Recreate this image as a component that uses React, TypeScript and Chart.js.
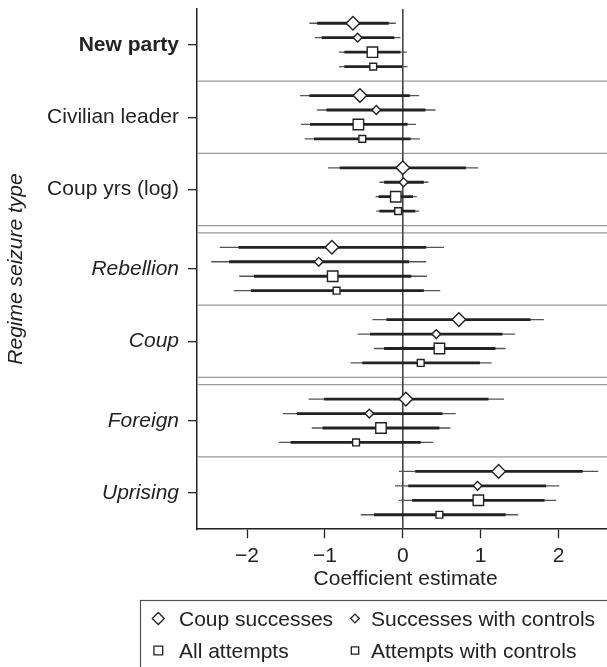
import { useEffect, useRef } from 'react';
import { Chart, registerables } from 'chart.js';

Chart.register(...registerables);

// Regime-seizure covariates, top to bottom
const GROUPS = ['New party', 'Civilian leader', 'Coup yrs (log)', 'Rebellion', 'Coup', 'Foreign', 'Uprising'];

// Coup successes
const SUCCESS_EST = [-0.64, -0.55, 0.0, -0.91, 0.72, 0.04, 1.23];
const SUCCESS_CI95 = [[-1.2, -0.09], [-1.32, 0.21], [-0.96, 0.97], [-2.35, 0.53], [-0.39, 1.81], [-1.21, 1.3], [-0.05, 2.51]];
const SUCCESS_CI90 = [[-1.1, -0.18], [-1.2, 0.09], [-0.81, 0.81], [-2.11, 0.3], [-0.21, 1.64], [-1.01, 1.1], [0.16, 2.31]];

// Successes with controls
const SUCCESS_CTRL_EST = [-0.58, -0.34, 0.01, -1.08, 0.43, -0.43, 0.96];
const SUCCESS_CTRL_CI95 = [[-1.13, -0.03], [-1.1, 0.42], [-0.3, 0.33], [-2.46, 0.3], [-0.58, 1.44], [-1.54, 0.68], [-0.1, 2.01]];
const SUCCESS_CTRL_CI90 = [[-1.04, -0.11], [-0.98, 0.29], [-0.24, 0.27], [-2.23, 0.08], [-0.42, 1.28], [-1.36, 0.51], [0.07, 1.84]];

// All attempts
const ATTEMPT_EST = [-0.39, -0.57, -0.09, -0.9, 0.47, -0.28, 0.97];
const ATTEMPT_CI95 = [[-0.82, 0.05], [-1.31, 0.17], [-0.35, 0.18], [-2.1, 0.31], [-0.37, 1.32], [-1.17, 0.61], [-0.05, 1.97]];
const ATTEMPT_CI90 = [[-0.75, -0.03], [-1.19, 0.06], [-0.31, 0.13], [-1.91, 0.11], [-0.24, 1.19], [-1.03, 0.47], [0.12, 1.82]];

// Attempts with controls
const ATTEMPT_CTRL_EST = [-0.38, -0.52, -0.06, -0.85, 0.23, -0.6, 0.47];
const ATTEMPT_CTRL_CI95 = [[-0.82, 0.06], [-1.26, 0.22], [-0.34, 0.21], [-2.17, 0.48], [-0.67, 1.14], [-1.59, 0.39], [-0.54, 1.48]];
const ATTEMPT_CTRL_CI90 = [[-0.75, -0.01], [-1.14, 0.1], [-0.3, 0.16], [-1.95, 0.27], [-0.52, 0.99], [-1.44, 0.23], [-0.37, 1.32]];

const X_TICKS = [-2, -1, 0, 1, 2];

// Groups after which a double rule closes a block of covariates
const BLOCK_ENDS = [2, 4];
// Tick label emphasis per group
const LABEL_WEIGHT = ['bold', 'normal', 'normal', 'normal', 'normal', 'normal', 'normal'];
const LABEL_STYLE = ['normal', 'normal', 'normal', 'italic', 'italic', 'italic', 'italic'];

const FONT = '"Liberation Sans", Arial, Helvetica, sans-serif';
const INK = '#222';

type Series = {
  label: string;
  est: number[];
  ci95: number[][];
  ci90: number[][];
  style: 'rectRot' | 'rect';
  radius: number;
  legendRadius: number;
};

const SERIES: Series[] = [
  { label: 'Coup successes', est: SUCCESS_EST, ci95: SUCCESS_CI95, ci90: SUCCESS_CI90, style: 'rectRot', radius: 6.8, legendRadius: 6 },
  { label: 'Successes with controls', est: SUCCESS_CTRL_EST, ci95: SUCCESS_CTRL_CI95, ci90: SUCCESS_CTRL_CI90, style: 'rectRot', radius: 4.4, legendRadius: 4.4 },
  { label: 'All attempts', est: ATTEMPT_EST, ci95: ATTEMPT_CI95, ci90: ATTEMPT_CI90, style: 'rect', radius: 7.4, legendRadius: 6.2 },
  { label: 'Attempts with controls', est: ATTEMPT_CTRL_EST, ci95: ATTEMPT_CTRL_CI95, ci90: ATTEMPT_CTRL_CI90, style: 'rect', radius: 4.8, legendRadius: 5.2 },
];

// Vertical layout in row units: four rows per group, a rule one row below,
// and half an extra row where a double rule ends a block.
function buildRows() {
  const rowStart: number[] = [];
  const rules: number[] = [];
  let pos = 0;
  GROUPS.forEach((_, g) => {
    rowStart.push(pos);
    if (g === GROUPS.length - 1) return;
    rules.push(pos + 4);
    if (BLOCK_ENDS.includes(g)) {
      rules.push(pos + 4.5);
      pos += 5.5;
    } else {
      pos += 5;
    }
  });
  const centers = rowStart.map((s) => s + (SERIES.length - 1) / 2);
  return { rowStart, rules, centers, yMin: -1, yMax: rowStart[rowStart.length - 1] + SERIES.length };
}

const X_MIN = -2.642;
const X_MAX = 2.714;

const GAP = { x: NaN, y: NaN };

function drawMarker(ctx: CanvasRenderingContext2D, style: string, x: number, y: number, r: number) {
  ctx.beginPath();
  if (style === 'rectRot') {
    ctx.moveTo(x - r, y);
    ctx.lineTo(x, y - r);
    ctx.lineTo(x + r, y);
    ctx.lineTo(x, y + r);
    ctx.closePath();
  } else {
    const h = r * Math.SQRT1_2;
    ctx.rect(x - h, y - h, 2 * h, 2 * h);
  }
  ctx.fillStyle = '#fff';
  ctx.fill();
  ctx.lineWidth = 1.3;
  ctx.strokeStyle = INK;
  ctx.stroke();
}

// Boxed two-by-two key under the axis title
const boxedKey = {
  id: 'boxedKey',
  afterDraw(chart: Chart) {
    const { ctx } = chart;
    const left = 140;
    const top = 600;
    const colMarker = [158.3, 355];
    const colText = [179, 371];
    const rowMid = [618.5, 650.5];
    ctx.save();
    ctx.strokeStyle = '#555';
    ctx.lineWidth = 1.2;
    ctx.strokeRect(left + 0.5, top + 0.5, chart.width, chart.height);
    ctx.font = `21px ${FONT}`;
    ctx.textBaseline = 'alphabetic';
    ctx.textAlign = 'left';
    SERIES.forEach((s, i) => {
      const col = i % 2;
      const row = Math.floor(i / 2);
      drawMarker(ctx, s.style, colMarker[col], rowMid[row], s.legendRadius);
      ctx.fillStyle = INK;
      ctx.fillText(s.label, colText[col], rowMid[row] + 7.5);
    });
    ctx.restore();
  },
};

export default function App() {
  const canvasRef = useRef<HTMLCanvasElement | null>(null);

  useEffect(() => {
    const canvas = canvasRef.current;
    if (!canvas) return;
    const { rowStart, rules, centers, yMin, yMax } = buildRows();

    const markerSets = SERIES.map((s, k) => ({
      label: s.label,
      data: s.est.map((v, g) => ({ x: v, y: rowStart[g] + k })),
      showLine: false,
      pointStyle: s.style,
      pointRadius: s.radius,
      pointBackgroundColor: '#fff',
      pointBorderColor: INK,
      pointBorderWidth: 1.4,
    }));

    const intervalPoints = (key: 'ci95' | 'ci90') => {
      const pts: { x: number; y: number }[] = [];
      SERIES.forEach((s, k) => {
        s[key].forEach(([lo, hi], g) => {
          const y = rowStart[g] + k;
          pts.push({ x: lo, y }, { x: hi, y }, GAP);
        });
      });
      return pts;
    };

    const lineSet = (data: { x: number; y: number }[], color: string, width: number) => ({
      data,
      showLine: true,
      spanGaps: false,
      pointRadius: 0,
      borderColor: color,
      borderWidth: width,
      borderCapStyle: 'butt' as const,
    });

    const rulePoints: { x: number; y: number }[] = [];
    rules.forEach((y) => rulePoints.push({ x: X_MIN, y }, { x: X_MAX, y }, GAP));

    const chart = new Chart(canvas, {
      type: 'scatter',
      data: {
        datasets: [
          ...markerSets,
          lineSet(intervalPoints('ci90'), '#222', 2.8),
          lineSet(intervalPoints('ci95'), '#555', 1.3),
          lineSet([{ x: 0, y: yMin }, { x: 0, y: yMax }], '#444', 1.6),
          lineSet(rulePoints, '#9a9a9a', 1.1),
        ] as any,
      },
      options: {
        responsive: false,
        animation: false,
        devicePixelRatio: 1,
        events: [],
        layout: { padding: { top: 4.6, left: 0, right: 0, bottom: 107.8 } },
        plugins: { legend: { display: false }, tooltip: { enabled: false } },
        scales: {
          x: {
            type: 'linear',
            min: X_MIN,
            max: X_MAX,
            afterBuildTicks: (scale: any) => {
              scale.ticks = X_TICKS.map((value) => ({ value }));
            },
            afterFit: (scale: any) => {
              scale.height = 63;
              scale.paddingLeft = 0;
              scale.paddingRight = 0;
            },
            ticks: {
              padding: 5,
              color: INK,
              font: { family: FONT, size: 21 },
              callback: (v: any) => (Number(v) < 0 ? '\u2212' + Math.abs(Number(v)) : String(v)),
            },
            grid: { drawOnChartArea: false, tickLength: 9, color: INK, tickColor: INK, tickWidth: 1.3 },
            border: { display: true, color: INK, width: 1.5 },
            title: { display: true, text: 'Coefficient estimate', color: INK, font: { family: FONT, size: 21 }, padding: 0 },
          },
          y: {
            type: 'linear',
            reverse: true,
            min: yMin,
            max: yMax,
            afterBuildTicks: (scale: any) => {
              scale.ticks = centers.map((value) => ({ value }));
            },
            afterFit: (scale: any) => {
              scale.width = 197;
              scale.paddingTop = 0;
              scale.paddingBottom = 0;
            },
            ticks: {
              padding: 9,
              color: INK,
              callback: (_v: any, i: number) => GROUPS[i],
              font: (ctx: any) => ({
                family: FONT,
                size: 21,
                weight: LABEL_WEIGHT[ctx.index] as any,
                style: LABEL_STYLE[ctx.index] as any,
              }),
            },
            grid: { drawOnChartArea: false, tickLength: 9, color: INK, lineWidth: 1.3 },
            border: { display: true, color: INK, width: 1.5 },
            title: {
              display: true,
              text: 'Regime seizure type',
              color: INK,
              font: { family: FONT, size: 21, style: 'italic' },
              padding: { top: 4, bottom: 0 },
            },
          },
        },
      } as any,
      plugins: [boxedKey],
    });

    return () => chart.destroy();
  }, []);

  return (
    <div
      style={{
        position: 'fixed',
        left: 0,
        top: 0,
        width: 607,
        height: 667,
        overflow: 'hidden',
        background: '#fff',
      }}
    >
      <canvas ref={canvasRef} width={623} height={700} style={{ display: 'block' }} />
    </div>
  );
}
